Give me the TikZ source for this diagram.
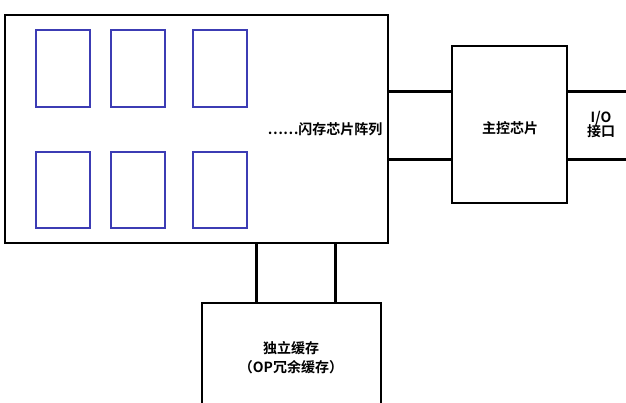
\documentclass[tikz,border=0pt]{standalone}
\usepackage{fontspec}
\setmainfont{Noto Sans CJK SC}[BoldFont={Noto Sans CJK SC Bold}]
\definecolor{chipblue}{RGB}{60,60,180}
\begin{document}
\begin{tikzpicture}[x=1pt,y=-1pt,
	box/.style={draw, line width=2pt},
	chip/.style={draw=chipblue, line width=2.5pt},
	bus/.style={line width=3pt},
	txt/.style={font=\bfseries\fontsize{14}{17}\selectfont, align=center}]
		\useasboundingbox (0, 0) rectangle (626, 403);

		\draw [box] (5, 15) rectangle (388, 243);
		\draw [box] (452, 46) rectangle (567, 203);
		\draw [box] (202, 303) rectangle (381, 410);

		\draw [chip] (36, 30) rectangle (90, 107);
		\draw [chip] (111, 30) rectangle (165, 107);
		\draw [chip] (193, 30) rectangle (247, 107);
		\draw [chip] (36, 152) rectangle (90, 228);
		\draw [chip] (111, 152) rectangle (165, 228);
		\draw [chip] (193, 152) rectangle (247, 228);

		\node [txt, anchor=east] (array) at (386, 129) {……闪存芯片阵列};
		\node [txt] (ctrl) at (510, 128) {主控芯片};
		\node [txt] (io) at (601, 125) {I/O\\[-3pt]接口};
		\node [txt] (cache) at (291, 358) {独立缓存\\[2pt]（OP冗余缓存）};

		\draw [bus] (388, 92) -- (452, 92);
		\draw [bus] (388, 160) -- (452, 160);
		\draw [bus] (567, 92) -- (626, 92);
		\draw [bus] (567, 160) -- (626, 160);
		\draw [bus] (256, 243) -- (256, 303);
		\draw [bus] (335, 243) -- (335, 303);
	\end{tikzpicture}
\end{document}
